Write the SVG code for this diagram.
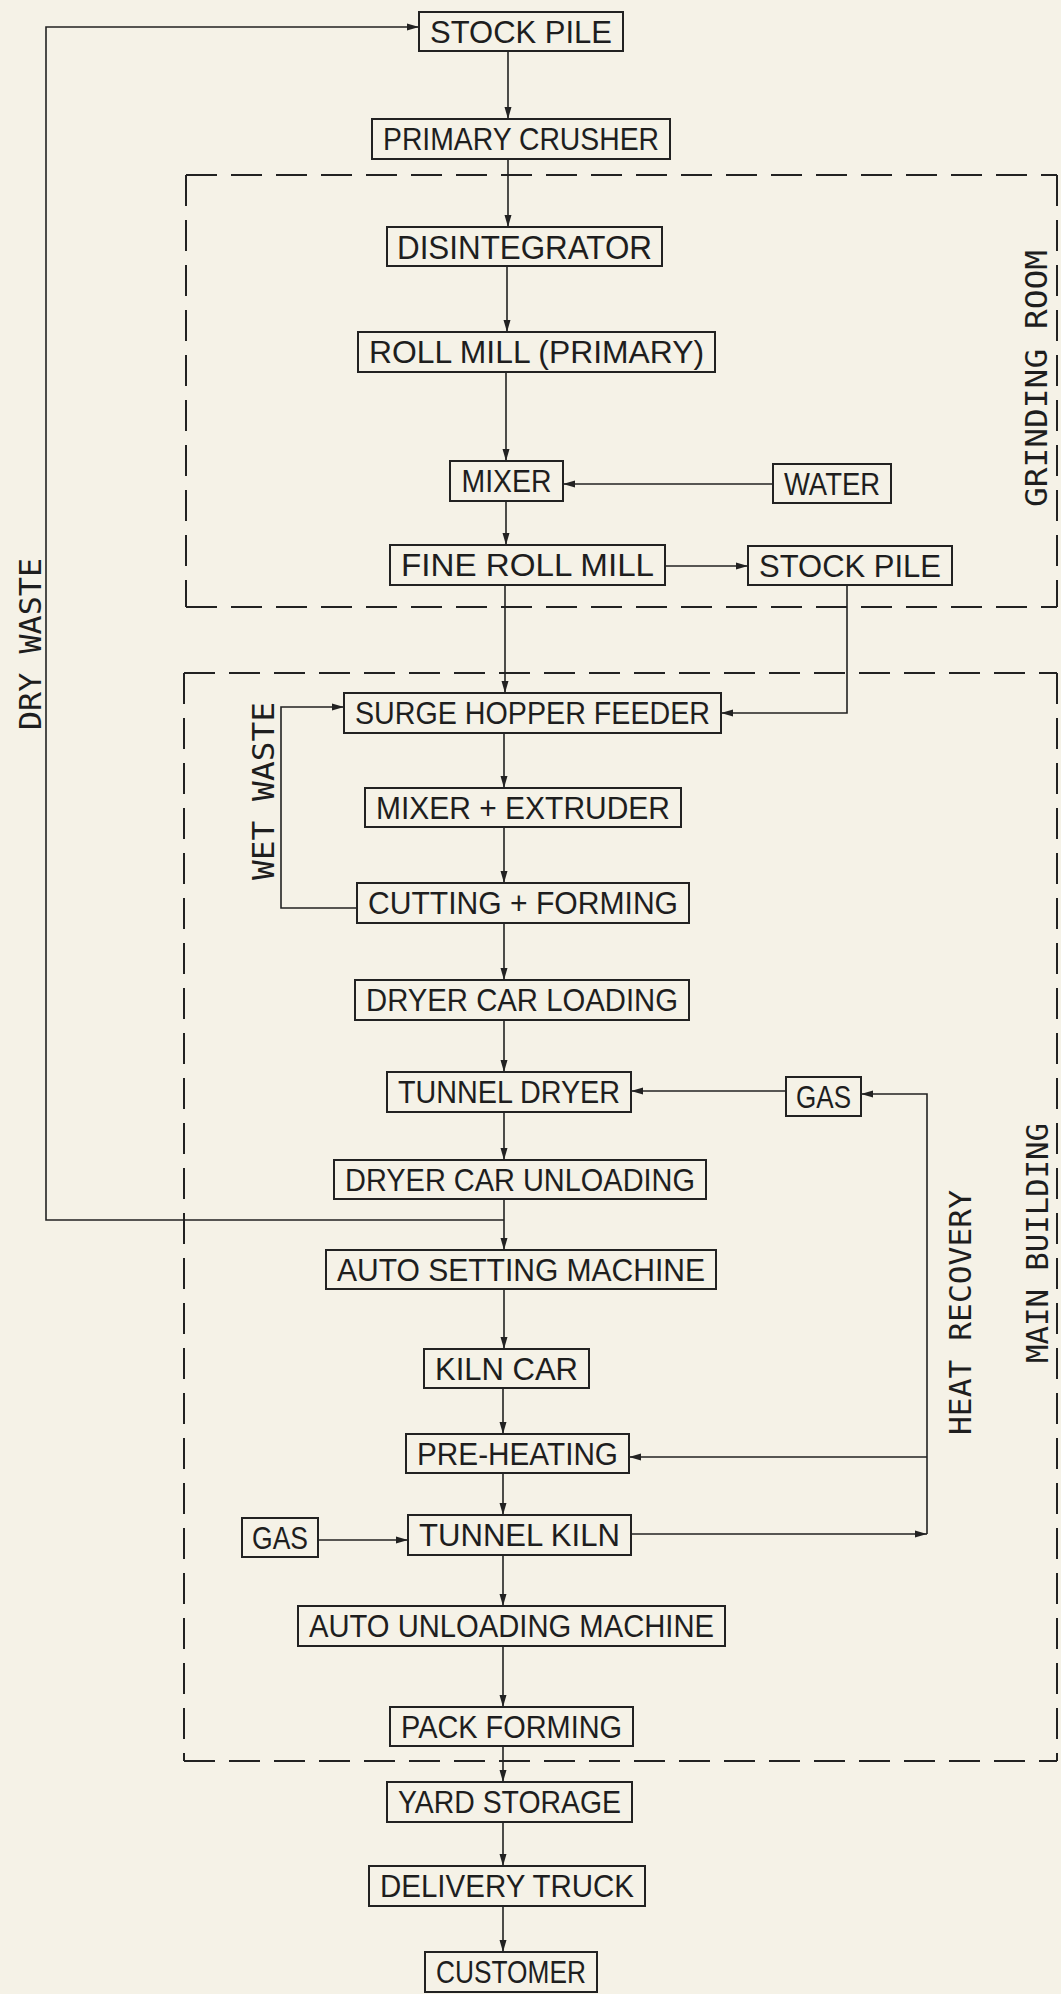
<svg xmlns="http://www.w3.org/2000/svg" width="1061" height="1994" viewBox="0 0 1061 1994">
<defs>
<marker id="arr" markerUnits="userSpaceOnUse" markerWidth="13" markerHeight="9" refX="12" refY="4.5" orient="auto">
<path d="M0,1 L12,4.5 L0,8 z" fill="#222"/>
</marker>
<style>
.bx rect{fill:none;stroke:#222;stroke-width:2}
.bx text{font-family:"Liberation Sans Narrow","Liberation Sans",Arial,sans-serif;font-size:32px;fill:#1e1e1e;text-anchor:middle}
.cn line,.cn polyline{fill:none;stroke:#222;stroke-width:1.6}
.dash{fill:none;stroke:#222;stroke-width:2;stroke-dasharray:31 14}
.lbl{font-family:"DejaVu Sans Mono","Liberation Mono",monospace;font-size:30px;fill:#1e1e1e}
</style>
</defs>
<rect x="0" y="0" width="1061" height="1994" fill="#f5f2e7"/>

<g id="areas">
<g id="grinding-room">
<line class="dash" x1="186" y1="175" x2="1057" y2="175"/>
<line class="dash" x1="186" y1="175" x2="186" y2="607"/>
<line class="dash" x1="1057" y1="175" x2="1057" y2="607"/>
<line class="dash" x1="186" y1="607" x2="1057" y2="607"/>
<text class="lbl" transform="translate(1047,507) rotate(-90)" textLength="257" lengthAdjust="spacingAndGlyphs">GRINDING ROOM</text>
</g>
<g id="main-building">
<line class="dash" x1="184" y1="673" x2="1057" y2="673"/>
<line class="dash" x1="184" y1="673" x2="184" y2="1761"/>
<line class="dash" x1="1057" y1="673" x2="1057" y2="1761"/>
<line class="dash" x1="184" y1="1761" x2="1057" y2="1761"/>
<text class="lbl" transform="translate(1048,1363) rotate(-90)" textLength="240" lengthAdjust="spacingAndGlyphs">MAIN BUILDING</text>
</g>
</g>

<g id="connectors" class="cn">
<line x1="508" y1="51" x2="508" y2="119" marker-end="url(#arr)"/>
<line x1="508" y1="159" x2="508" y2="227" marker-end="url(#arr)"/>
<line x1="507" y1="266" x2="507" y2="332" marker-end="url(#arr)"/>
<line x1="506" y1="372" x2="506" y2="461" marker-end="url(#arr)"/>
<line x1="506" y1="501" x2="506" y2="545" marker-end="url(#arr)"/>
<line x1="773" y1="484" x2="563" y2="484" marker-end="url(#arr)"/>
<line x1="665" y1="566" x2="748" y2="566" marker-end="url(#arr)"/>
<line x1="505" y1="585" x2="505" y2="693" marker-end="url(#arr)"/>
<polyline points="847,585 847,713 721,713" marker-end="url(#arr)"/>
<line x1="504" y1="733" x2="504" y2="788" marker-end="url(#arr)"/>
<line x1="504" y1="827" x2="504" y2="883" marker-end="url(#arr)"/>
<polyline points="357,908 281,908 281,707 344,707" marker-end="url(#arr)"/>
<line x1="504" y1="923" x2="504" y2="980" marker-end="url(#arr)"/>
<line x1="504" y1="1020" x2="504" y2="1072" marker-end="url(#arr)"/>
<line x1="786" y1="1091" x2="631" y2="1091" marker-end="url(#arr)"/>
<line x1="504" y1="1112" x2="504" y2="1160" marker-end="url(#arr)"/>
<line x1="504" y1="1199" x2="504" y2="1250" marker-end="url(#arr)"/>
<polyline points="504,1220 46,1220 46,27 419,27" marker-end="url(#arr)"/>
<line x1="504" y1="1289" x2="504" y2="1349" marker-end="url(#arr)"/>
<line x1="503" y1="1388" x2="503" y2="1434" marker-end="url(#arr)"/>
<line x1="503" y1="1473" x2="503" y2="1515" marker-end="url(#arr)"/>
<line x1="318" y1="1540" x2="408" y2="1540" marker-end="url(#arr)"/>
<line x1="631" y1="1534" x2="927" y2="1534" marker-end="url(#arr)"/>
<polyline points="927,1534 927,1094 861,1094" marker-end="url(#arr)"/>
<line x1="927" y1="1457" x2="629" y2="1457" marker-end="url(#arr)"/>
<line x1="503" y1="1555" x2="503" y2="1606" marker-end="url(#arr)"/>
<line x1="503" y1="1646" x2="503" y2="1707" marker-end="url(#arr)"/>
<line x1="503" y1="1746" x2="503" y2="1782" marker-end="url(#arr)"/>
<line x1="503" y1="1822" x2="503" y2="1866" marker-end="url(#arr)"/>
<line x1="503" y1="1906" x2="503" y2="1952" marker-end="url(#arr)"/>
<text class="lbl" transform="translate(41,730) rotate(-90)" textLength="172" lengthAdjust="spacingAndGlyphs">DRY WASTE</text>
<text class="lbl" transform="translate(274,880) rotate(-90)" textLength="178" lengthAdjust="spacingAndGlyphs">WET WASTE</text>
<text class="lbl" transform="translate(971,1435) rotate(-90)" textLength="245" lengthAdjust="spacingAndGlyphs">HEAT RECOVERY</text>
</g>

<g id="n-stock-pile-1" class="bx"><rect x="419" y="12" width="204" height="39"/><text x="521" y="43" textLength="182" lengthAdjust="spacingAndGlyphs">STOCK PILE</text></g>
<g id="n-primary-crusher" class="bx"><rect x="372" y="119" width="298" height="40"/><text x="521" y="150" textLength="276" lengthAdjust="spacingAndGlyphs">PRIMARY CRUSHER</text></g>
<g id="n-disintegrator" class="bx"><rect x="387" y="227" width="275" height="39"/><text x="524.5" y="259" textLength="255" lengthAdjust="spacingAndGlyphs" style="font-size:34px">DISINTEGRATOR</text></g>
<g id="n-roll-mill" class="bx"><rect x="358" y="332" width="357" height="40"/><text x="536.5" y="363" textLength="335" lengthAdjust="spacingAndGlyphs">ROLL MILL (PRIMARY)</text></g>
<g id="n-mixer" class="bx"><rect x="450" y="461" width="113" height="40"/><text x="506.5" y="492" textLength="90" lengthAdjust="spacingAndGlyphs">MIXER</text></g>
<g id="n-water" class="bx"><rect x="773" y="464" width="118" height="39"/><text x="832" y="495" textLength="96" lengthAdjust="spacingAndGlyphs">WATER</text></g>
<g id="n-fine-roll-mill" class="bx"><rect x="390" y="545" width="275" height="40"/><text x="527.5" y="576" textLength="253" lengthAdjust="spacingAndGlyphs">FINE ROLL MILL</text></g>
<g id="n-stock-pile-2" class="bx"><rect x="748" y="546" width="204" height="39"/><text x="850" y="577" textLength="182" lengthAdjust="spacingAndGlyphs">STOCK PILE</text></g>
<g id="n-surge-hopper" class="bx"><rect x="344" y="693" width="377" height="40"/><text x="532.5" y="724" textLength="355" lengthAdjust="spacingAndGlyphs">SURGE HOPPER FEEDER</text></g>
<g id="n-mixer-extruder" class="bx"><rect x="365" y="788" width="316" height="39"/><text x="523" y="819" textLength="294" lengthAdjust="spacingAndGlyphs">MIXER + EXTRUDER</text></g>
<g id="n-cutting-forming" class="bx"><rect x="357" y="883" width="332" height="40"/><text x="523" y="914" textLength="310" lengthAdjust="spacingAndGlyphs">CUTTING + FORMING</text></g>
<g id="n-dryer-car-loading" class="bx"><rect x="355" y="980" width="334" height="40"/><text x="522" y="1011" textLength="312" lengthAdjust="spacingAndGlyphs">DRYER CAR LOADING</text></g>
<g id="n-tunnel-dryer" class="bx"><rect x="387" y="1072" width="244" height="40"/><text x="509" y="1103" textLength="222" lengthAdjust="spacingAndGlyphs">TUNNEL DRYER</text></g>
<g id="n-gas-1" class="bx"><rect x="786" y="1077" width="75" height="39"/><text x="823.5" y="1108" textLength="55" lengthAdjust="spacingAndGlyphs">GAS</text></g>
<g id="n-dryer-car-unloading" class="bx"><rect x="334" y="1160" width="372" height="39"/><text x="520" y="1191" textLength="350" lengthAdjust="spacingAndGlyphs">DRYER CAR UNLOADING</text></g>
<g id="n-auto-setting" class="bx"><rect x="326" y="1250" width="390" height="39"/><text x="521" y="1281" textLength="368" lengthAdjust="spacingAndGlyphs">AUTO SETTING MACHINE</text></g>
<g id="n-kiln-car" class="bx"><rect x="424" y="1349" width="165" height="39"/><text x="506.5" y="1380" textLength="143" lengthAdjust="spacingAndGlyphs">KILN CAR</text></g>
<g id="n-pre-heating" class="bx"><rect x="406" y="1434" width="223" height="39"/><text x="517.5" y="1465" textLength="201" lengthAdjust="spacingAndGlyphs">PRE-HEATING</text></g>
<g id="n-gas-2" class="bx"><rect x="242" y="1518" width="76" height="39"/><text x="280" y="1549" textLength="56" lengthAdjust="spacingAndGlyphs">GAS</text></g>
<g id="n-tunnel-kiln" class="bx"><rect x="408" y="1515" width="223" height="40"/><text x="519.5" y="1546" textLength="201" lengthAdjust="spacingAndGlyphs">TUNNEL KILN</text></g>
<g id="n-auto-unloading" class="bx"><rect x="298" y="1606" width="427" height="40"/><text x="511.5" y="1637" textLength="405" lengthAdjust="spacingAndGlyphs">AUTO UNLOADING MACHINE</text></g>
<g id="n-pack-forming" class="bx"><rect x="390" y="1707" width="243" height="39"/><text x="511.5" y="1738" textLength="221" lengthAdjust="spacingAndGlyphs">PACK FORMING</text></g>
<g id="n-yard-storage" class="bx"><rect x="387" y="1782" width="245" height="40"/><text x="509.5" y="1813" textLength="223" lengthAdjust="spacingAndGlyphs">YARD STORAGE</text></g>
<g id="n-delivery-truck" class="bx"><rect x="369" y="1866" width="276" height="40"/><text x="507" y="1897" textLength="254" lengthAdjust="spacingAndGlyphs">DELIVERY TRUCK</text></g>
<g id="n-customer" class="bx"><rect x="425" y="1952" width="172" height="40"/><text x="511" y="1983" textLength="150" lengthAdjust="spacingAndGlyphs">CUSTOMER</text></g>
</svg>
